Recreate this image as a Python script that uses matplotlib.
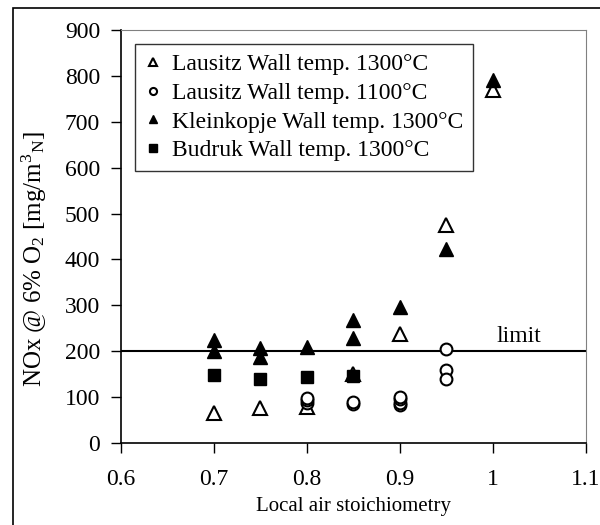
import matplotlib.pyplot as plt
from matplotlib.patches import Rectangle

plt.rcParams['font.family'] = ['Liberation Serif', 'DejaVu Serif']
plt.rcParams['mathtext.fontset'] = 'custom'
plt.rcParams['mathtext.rm'] = 'Liberation Serif'
plt.rcParams['mathtext.it'] = 'Liberation Serif:italic'

# data
lausitz_1300_x = [0.7, 0.75, 0.8, 0.85, 0.9, 0.95, 1.0]
lausitz_1300_y = [66, 76, 79, 150, 237, 475, 769]
lausitz_1100_x = [0.8, 0.8, 0.8, 0.85, 0.85, 0.9, 0.9, 0.9, 0.9, 0.95, 0.95, 0.95]
lausitz_1100_y = [88, 93, 97, 86, 89, 82, 88, 95, 101, 204, 159, 139]
klein_x = [0.7, 0.7, 0.75, 0.75, 0.8, 0.85, 0.85, 0.9, 0.95, 1.0]
klein_y = [224, 200, 206, 188, 210, 268, 228, 297, 422, 791]
budruk_x = [0.7, 0.75, 0.8, 0.85]
budruk_y = [148, 139, 144, 145]
limit_x = [0.6, 1.1]
limit_y = [200, 200]

fig = plt.figure(figsize=(6, 5.25), dpi=100)
ax = fig.add_axes([121/600, 82/525, 465/600, 413/525])

# outer frame (cut off on right and bottom)
fig.patches.append(Rectangle((13/600, -0.1), 2, 1.1 - 8/525, transform=fig.transFigure,
                             fill=False, edgecolor='black', linewidth=1.2))

ax.plot(limit_x, limit_y, color='black', linewidth=1.5, zorder=1)
ax.text(1.028, 210, 'limit', fontsize=17, ha='center', va='bottom')

ax.plot(lausitz_1300_x, lausitz_1300_y, '^', ms=9.5, mfc='white', mec='black', mew=1.5,
        linestyle='none', label='Lausitz Wall temp. 1300°C')
ax.plot(lausitz_1100_x, lausitz_1100_y, 'o', ms=8.5, mfc='white', mec='black', mew=1.5,
        linestyle='none', label='Lausitz Wall temp. 1100°C')
ax.plot(klein_x, klein_y, '^', ms=9.5, color='black', linestyle='none',
        label='Kleinkopje Wall temp. 1300°C')
ax.plot(budruk_x, budruk_y, 's', ms=8.5, color='black', linestyle='none',
        label='Budruk Wall temp. 1300°C')

ax.set_xlim(0.6, 1.1)
ax.set_ylim(0, 900)
ax.set_xticks([0.6, 0.7, 0.8, 0.9, 1.0, 1.1])
ax.set_xticklabels(['0.6', '0.7', '0.8', '0.9', '1', '1.1'])
ax.set_yticks(range(0, 901, 100))
ax.tick_params(labelsize=17, direction='out', length=7, width=1, color='black')
ax.tick_params(axis='x', pad=12)
ax.tick_params(axis='y', pad=8)
ax.set_xlabel('Local air stoichiometry', fontsize=15, labelpad=5)
ax.set_ylabel(r'NOx @ 6% O$_2$ [mg/m$^3$$_\mathrm{N}$]', fontsize=18)
ax.yaxis.set_label_coords(-0.155, 0.445)

for s in ['top', 'right']:
    ax.spines[s].set_color('#808080')
ax.spines['left'].set_linewidth(1.2)
ax.spines['bottom'].set_linewidth(1.2)

leg = ax.legend(loc='upper left', bbox_to_anchor=(14/465, 399/413), borderaxespad=0,
                fontsize=17, frameon=True, fancybox=False, edgecolor='black',
                markerscale=0.6, handlelength=0.7, handletextpad=0.45,
                labelspacing=0.3, borderpad=0.42)
leg.get_frame().set_linewidth(1.0)

fig.savefig('out.png', dpi=100)
